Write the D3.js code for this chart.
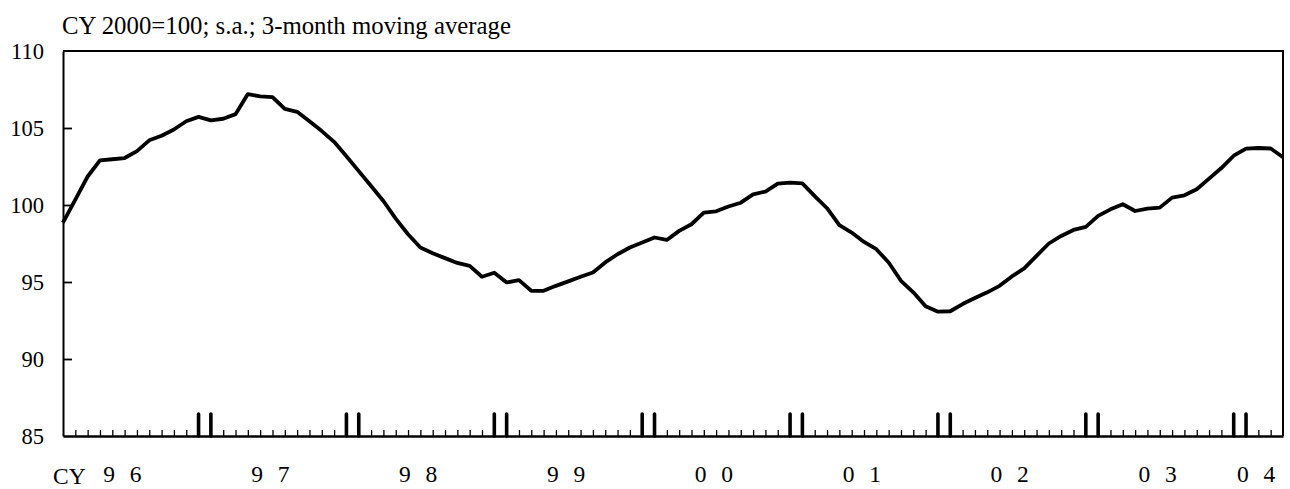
<!DOCTYPE html>
<html>
<head>
<meta charset="utf-8">
<script src="https://cdn.jsdelivr.net/npm/d3@7"></script>
<style>
  html, body { margin: 0; padding: 0; background: #fff; }
  svg { display: block; }
  text { font-family: "Liberation Serif", "Times New Roman", serif; fill: #000; }
</style>
</head>
<body>
<svg id="chart" width="1290" height="489"></svg>
<script>
// ---- data (monthly, Jan 1996 = index 0 .. Apr 2004 = index 99) ----
const months = d3.range(0, 100);
const values = [
  98.86, 100.35, 101.85, 102.9, 102.97, 103.05, 103.5, 104.2, 104.5, 104.9,
  105.44, 105.72, 105.5, 105.6, 105.9, 107.2, 107.05, 107.0, 106.24, 106.05,
  105.44, 104.8, 104.1, 103.17, 102.2, 101.23, 100.26, 99.12, 98.1, 97.24,
  96.87, 96.55, 96.24, 96.05, 95.34, 95.6, 94.97, 95.12, 94.43, 94.43,
  94.75, 95.04, 95.34, 95.62, 96.27, 96.8, 97.24, 97.56, 97.89, 97.73,
  98.32, 98.75, 99.5, 99.59, 99.9, 100.15, 100.69, 100.87, 101.39, 101.45,
  101.4, 100.58, 99.79, 98.69, 98.21, 97.6, 97.13, 96.27, 95.08, 94.33,
  93.42, 93.07, 93.1, 93.57, 93.96, 94.33, 94.75, 95.36, 95.88, 96.7,
  97.5, 97.99, 98.38, 98.58, 99.29, 99.72, 100.05, 99.61, 99.77, 99.83,
  100.48, 100.63, 101.02, 101.71, 102.4, 103.2, 103.66, 103.7, 103.67, 103.1
];
const yTicks = [85, 90, 95, 100, 105, 110];
const yearLabels = ["9 6", "9 7", "9 8", "9 9", "0 0", "0 1", "0 2", "0 3", "0 4"];
const yearLabelMonth = [5, 17, 29, 41, 53, 65, 77, 89, 97];
const yearBoundaryMonths = [11, 12, 23, 24, 35, 36, 47, 48, 59, 60, 71, 72, 83, 84, 95, 96];
const titleText = "CY 2000=100; s.a.; 3-month moving average";
const axisPrefix = "CY";

// ---- layout ----
const mLeft = 63, mRight = 1283, mTop = 51, mBottom = 436;
const svg = d3.select("#chart");
const x = d3.scaleLinear().domain([0, 99]).range([mLeft, mRight]);
const y = d3.scaleLinear().domain([85, 110]).range([mBottom, mTop]);

// title
svg.append("text")
  .attr("x", 62).attr("y", 34)
  .attr("font-size", 24.8)
  .text(titleText);

// frame (top + right)
svg.append("path")
  .attr("d", `M${mLeft},${mTop}H${mRight}V${mBottom}`)
  .attr("fill", "none").attr("stroke", "#000").attr("stroke-width", 2);

// y axis
const yAxis = d3.axisLeft(y).tickValues(yTicks).tickSizeInner(-9).tickSizeOuter(0).tickPadding(19)
  .tickFormat(d3.format("d"));
const gy = svg.append("g").attr("transform", `translate(${mLeft},0)`).call(yAxis);
gy.select(".domain").attr("stroke", "#000").attr("stroke-width", 2);
gy.selectAll(".tick line").attr("stroke", "#000").attr("stroke-width", 1.8)
  .filter(d => d === 85 || d === 110).remove();
gy.selectAll(".tick text")
  .attr("font-family", "Liberation Serif, serif")
  .attr("font-size", 22.5).attr("fill", "#000").attr("dy", "0.34em");

// x axis: monthly small ticks
const boundarySet = new Set(yearBoundaryMonths);
const xAxis = d3.axisBottom(x)
  .tickValues(months.filter(m => m > 0 && m < 99 && !boundarySet.has(m)))
  .tickSizeInner(-6).tickSizeOuter(0).tickFormat("");
const gx = svg.append("g").attr("transform", `translate(0,${mBottom})`).call(xAxis);
gx.select(".domain").attr("stroke", "#000").attr("stroke-width", 2.6);
gx.selectAll(".tick line").attr("stroke", "#000").attr("stroke-width", 1.3);

// thick year-boundary ticks
svg.append("g").selectAll("line").data(yearBoundaryMonths).join("line")
  .attr("x1", d => x(d)).attr("x2", d => x(d))
  .attr("y1", mBottom).attr("y2", mBottom - 22)
  .attr("stroke", "#000").attr("stroke-width", 3.6).attr("stroke-linecap", "round");

// year labels
svg.append("g").selectAll("text").data(yearLabels).join("text")
  .attr("x", (d, i) => x(yearLabelMonth[i]))
  .attr("y", 482)
  .attr("text-anchor", "middle")
  .attr("font-size", 23.5)
  .attr("letter-spacing", "4.4px")
  .text(d => d);

svg.append("text")
  .attr("x", 53).attr("y", 484)
  .attr("font-size", 23.5)
  .text(axisPrefix);

// line
const line = d3.line().x((d, i) => x(months[i])).y(d => y(d));
svg.append("path")
  .datum(values)
  .attr("d", line)
  .attr("fill", "none")
  .attr("stroke", "#000")
  .attr("stroke-width", 3.8)
  .attr("stroke-linejoin", "round");
</script>
</body>
</html>
